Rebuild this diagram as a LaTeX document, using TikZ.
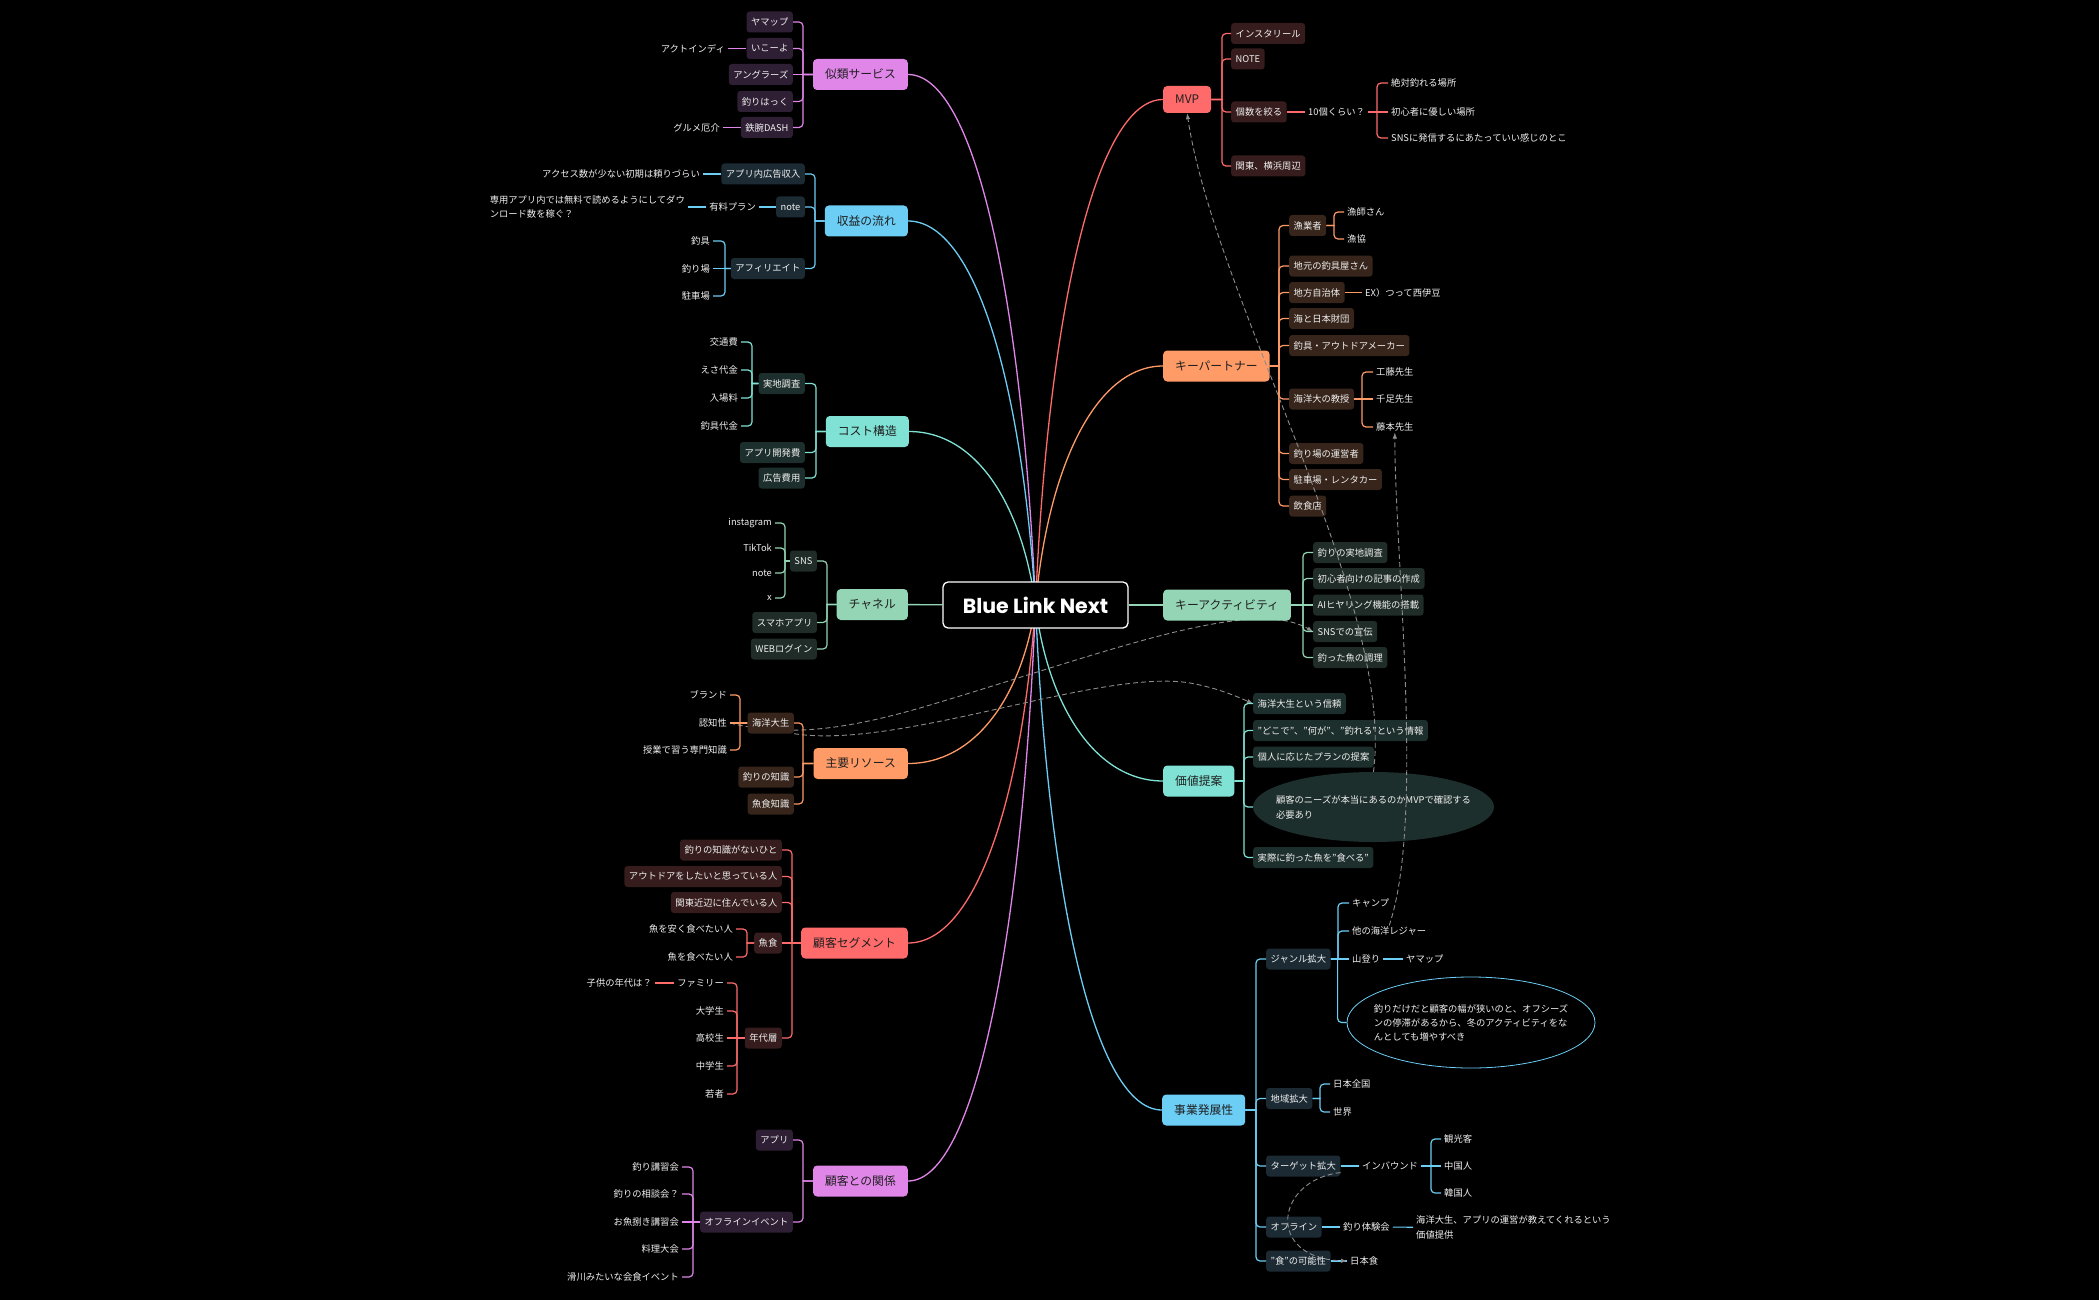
\documentclass[tikz,border=0pt]{standalone}
\usepackage{fontspec}
\setmainfont{Noto Sans CJK JP}
\newfontfamily\titlefont{Poppins}
\usetikzlibrary{arrows.meta, positioning, shapes.geometric, backgrounds}

\definecolor{vio}{HTML}{E086E8}
\definecolor{vioDk}{HTML}{2F1F34}
\definecolor{blu}{HTML}{6CCDF5}
\definecolor{bluDk}{HTML}{1B2A33}
\definecolor{tea}{HTML}{80E2D5}
\definecolor{teaDk}{HTML}{1D2F2C}
\definecolor{mnt}{HTML}{94D5B6}
\definecolor{mntDk}{HTML}{1F2C28}
\definecolor{org}{HTML}{FF9B66}
\definecolor{orgDk}{HTML}{37251B}
\definecolor{rd}{HTML}{FF6B6B}
\definecolor{rdDk}{HTML}{361C1C}
\definecolor{relgray}{HTML}{8C8C8C}

\begin{document}
\begin{tikzpicture}[
        x=1pt, y=-1pt,
        every node/.style={font=\fontsize{9.3}{11}\selectfont, text=white!94!black},
        topicbox/.style={rounded corners=4pt, minimum height=31pt, inner xsep=12pt, inner ysep=0pt,
            text=black!88, font=\fontsize{11.8}{13}\selectfont},
        subbox/.style={rounded corners=3pt, minimum height=21pt, inner xsep=4.5pt, inner ysep=0pt},
        leafnote/.style={inner xsep=3pt, inner ysep=1pt},
        forkline/.style={line width=1.2pt, rounded corners=4pt},
        trunkline/.style={line width=1.3pt},
        relline/.style={draw=relgray, line width=0.9pt, dash pattern=on 5pt off 3pt,
            -{Latex[length=6pt, width=4.5pt]}}
    ]
    \useasboundingbox (0,0) rectangle (2099,1300);
    \begin{scope}[on background layer]
        \fill[black] (0,0) rectangle (2099,1300);
    \end{scope}

    % 中心主题
    \node[draw=white, line width=1.3pt, fill=black, rounded corners=5pt, minimum width=185pt,
        minimum height=46pt, text=white, font=\titlefont\bfseries\fontsize{20.5}{22}\selectfont]
        (root) at (1035.5,605) {Blue Link Next};

    % 左侧主题
    \node[topicbox, fill=vio, anchor=east] (similar) at (908,74.5) {似類サービス};
    \node[topicbox, fill=blu, anchor=east] (revenue) at (908,221) {収益の流れ};
    \node[topicbox, fill=tea, anchor=east] (cost) at (909,431.5) {コスト構造};
    \node[topicbox, fill=mnt, anchor=east] (channel) at (908,604.5) {チャネル};
    \node[topicbox, fill=org, anchor=east] (resource) at (908,763.5) {主要リソース};
    \node[topicbox, fill=rd, anchor=east] (segment) at (908,943) {顧客セグメント};
    \node[topicbox, fill=vio, anchor=east] (custrel) at (908,1181) {顧客との関係};

    % 右侧主题
    \node[topicbox, fill=rd, anchor=west, minimum height=27pt] (mvp) at (1163,99.5) {MVP};
    \node[topicbox, fill=org, anchor=west] (partner) at (1163,366) {キーパートナー};
    \node[topicbox, fill=mnt, anchor=west] (activity) at (1163,605) {キーアクティビティ};
    \node[topicbox, fill=tea, anchor=west] (valueprop) at (1163,781) {価値提案};
    \node[topicbox, fill=blu, anchor=west] (growth) at (1162,1110) {事業発展性};

    % 似類サービス
    \node[subbox, fill=vioDk, anchor=east] (yamapA) at (793,22) {ヤマップ};
    \node[subbox, fill=vioDk, anchor=east] (ikoyo) at (793,48.5) {いこーよ};
    \node[subbox, fill=vioDk, anchor=east] (anglers) at (793,74.5) {アングラーズ};
    \node[subbox, fill=vioDk, anchor=east] (tsurihack) at (793,101.5) {釣りはっく};
    \node[subbox, fill=vioDk, anchor=east] (tetsuwan) at (793,127.5) {鉄腕DASH};
    \node[leafnote, anchor=east] (actindy) at (728,48.5) {アクトインディ};
    \node[leafnote, anchor=east] (gourmet) at (723,127.5) {グルメ厄介};
    \foreach \c in {yamapA,ikoyo,tsurihack,tetsuwan}
        \draw[forkline, vio] (\c.east) -- ++(10,0) [sharp corners] |- (similar.west);
    \draw[forkline, vio] (anglers) -- (similar);
    \draw[forkline, vio] (actindy) -- (ikoyo);
    \draw[forkline, vio] (gourmet) -- (tetsuwan);

    % 収益の流れ
    \node[subbox, fill=bluDk, anchor=east] (adrev) at (805,174) {アプリ内広告収入};
    \node[subbox, fill=bluDk, anchor=east] (noteplan) at (805,207) {note};
    \node[subbox, fill=bluDk, anchor=east] (affiliate) at (805,268.5) {アフィリエイト};
    \node[leafnote, anchor=east] (access) at (703,174) {アクセス数が少ない初期は頼りづらい};
    \node[leafnote, anchor=east] (paidplan) at (759,207) {有料プラン};
    \node[leafnote, anchor=east, align=left, font=\fontsize{9.3}{14.5}\selectfont] (download) at (688,207)
        {専用アプリ内では無料で読めるようにしてダウ\\ンロード数を稼ぐ？};
    \node[leafnote, anchor=east] (gear) at (713,241) {釣具};
    \node[leafnote, anchor=east] (spot) at (713,268.5) {釣り場};
    \node[leafnote, anchor=east] (parking) at (713,296) {駐車場};
    \foreach \c in {adrev,noteplan,affiliate}
        \draw[forkline, blu] (\c.east) -- ++(10,0) [sharp corners] |- (revenue.west);
    \draw[forkline, blu] (access) -- (adrev);
    \draw[forkline, blu] (paidplan) -- (noteplan);
    \draw[forkline, blu] (download) -- (paidplan);
    \foreach \c in {gear,parking}
        \draw[forkline, blu] (\c.east) -- ++(12,0) [sharp corners] |- (affiliate.west);
    \draw[forkline, blu] (spot) -- (affiliate);

    % コスト構造
    \node[subbox, fill=teaDk, anchor=east] (survey) at (805,383.5) {実地調査};
    \node[subbox, fill=teaDk, anchor=east] (appdev) at (805,452.5) {アプリ開発費};
    \node[subbox, fill=teaDk, anchor=east] (adcost) at (805,478) {広告費用};
    \node[leafnote, anchor=east] (transport) at (741,342) {交通費};
    \node[leafnote, anchor=east] (bait) at (741,370) {えさ代金};
    \node[leafnote, anchor=east] (entryfee) at (741,398) {入場料};
    \node[leafnote, anchor=east] (gearfee) at (741,426) {釣具代金};
    \foreach \c in {survey,appdev,adcost}
        \draw[forkline, tea] (\c.east) -- ++(11,0) [sharp corners] |- (cost.west);
    \foreach \c in {transport,bait,entryfee,gearfee}
        \draw[forkline, tea] (\c.east) -- ++(11,0) [sharp corners] |- (survey.west);

    % チャネル
    \node[subbox, fill=mntDk, anchor=east] (sns) at (817,561) {SNS};
    \node[subbox, fill=mntDk, anchor=east] (smartapp) at (817,622.5) {スマホアプリ};
    \node[subbox, fill=mntDk, anchor=east] (weblogin) at (817,649) {WEBログイン};
    \node[leafnote, anchor=east] (insta) at (775,523) {instagram};
    \node[leafnote, anchor=east] (tiktok) at (775,548) {TikTok};
    \node[leafnote, anchor=east] (notesns) at (775,573) {note};
    \node[leafnote, anchor=east] (xsns) at (775,598) {x};
    \foreach \c in {sns,smartapp,weblogin}
        \draw[forkline, mnt] (\c.east) -- ++(10,0) [sharp corners] |- (channel.west);
    \foreach \c in {insta,tiktok,notesns,xsns}
        \draw[forkline, mnt] (\c.east) -- ++(10,0) [sharp corners] |- (sns.west);

    % 主要リソース
    \node[subbox, fill=orgDk, anchor=east] (student) at (794,723) {海洋大生};
    \node[subbox, fill=orgDk, anchor=east] (knowhow) at (794,777) {釣りの知識};
    \node[subbox, fill=orgDk, anchor=east] (fishfood) at (794,804) {魚食知識};
    \node[leafnote, anchor=east] (brand) at (730,695) {ブランド};
    \node[leafnote, anchor=east] (ninchi) at (730,723) {認知性};
    \node[leafnote, anchor=east] (lecture) at (730,750) {授業で習う専門知識};
    \foreach \c in {student,knowhow,fishfood}
        \draw[forkline, org] (\c.east) -- ++(9,0) [sharp corners] |- (resource.west);
    \foreach \c in {brand,lecture}
        \draw[forkline, org] (\c.east) -- ++(10,0) [sharp corners] |- (student.west);
    \draw[forkline, org] (ninchi) -- (student);

    % 顧客セグメント
    \node[subbox, fill=rdDk, anchor=east] (noknow) at (782,850) {釣りの知識がないひと};
    \node[subbox, fill=rdDk, anchor=east] (outdoor) at (782,876.5) {アウトドアをしたいと思っている人};
    \node[subbox, fill=rdDk, anchor=east] (kanto) at (782,902.5) {関東近辺に住んでいる人};
    \node[subbox, fill=rdDk, anchor=east] (eater) at (782,943) {魚食};
    \node[subbox, fill=rdDk, anchor=east] (agegroup) at (782,1038) {年代層};
    \node[leafnote, anchor=east] (cheapfish) at (736,929) {魚を安く食べたい人};
    \node[leafnote, anchor=east] (wantfish) at (736,957) {魚を食べたい人};
    \node[leafnote, anchor=east] (family) at (727,983) {ファミリー};
    \node[leafnote, anchor=east] (univ) at (727,1011) {大学生};
    \node[leafnote, anchor=east] (high) at (727,1038) {高校生};
    \node[leafnote, anchor=east] (junior) at (727,1066) {中学生};
    \node[leafnote, anchor=east] (youth) at (727,1094) {若者};
    \node[leafnote, anchor=east] (kidage) at (655,983) {子供の年代は？};
    \foreach \c in {noknow,outdoor,kanto,agegroup}
        \draw[forkline, rd] (\c.east) -- ++(10,0) [sharp corners] |- (segment.west);
    \draw[forkline, rd] (eater) -- (segment);
    \foreach \c in {cheapfish,wantfish}
        \draw[forkline, rd] (\c.east) -- ++(11,0) [sharp corners] |- (eater.west);
    \foreach \c in {family,univ,junior,youth}
        \draw[forkline, rd] (\c.east) -- ++(10,0) [sharp corners] |- (agegroup.west);
    \draw[forkline, rd] (high) -- (agegroup);
    \draw[forkline, rd] (kidage) -- (family);

    % 顧客との関係
    \node[subbox, fill=vioDk, anchor=east] (apprel) at (793,1140) {アプリ};
    \node[subbox, fill=vioDk, anchor=east] (offevent) at (793,1222) {オフラインイベント};
    \node[leafnote, anchor=east] (lesson) at (682,1167) {釣り講習会};
    \node[leafnote, anchor=east] (consult) at (682,1194) {釣りの相談会？};
    \node[leafnote, anchor=east] (filleting) at (682,1222) {お魚捌き講習会};
    \node[leafnote, anchor=east] (cookoff) at (682,1249) {料理大会};
    \node[leafnote, anchor=east] (dinner) at (682,1277) {滑川みたいな会食イベント};
    \foreach \c in {apprel,offevent}
        \draw[forkline, vio] (\c.east) -- ++(10,0) [sharp corners] |- (custrel.west);
    \foreach \c in {lesson,consult,cookoff,dinner}
        \draw[forkline, vio] (\c.east) -- ++(11,0) [sharp corners] |- (offevent.west);
    \draw[forkline, vio] (filleting) -- (offevent);

    % MVP
    \node[subbox, fill=rdDk, anchor=west] (reel) at (1231,33.5) {インスタリール};
    \node[subbox, fill=rdDk, anchor=west] (notebig) at (1231,59) {NOTE};
    \node[subbox, fill=rdDk, anchor=west] (narrow) at (1231,112) {個数を絞る};
    \node[subbox, fill=rdDk, anchor=west] (yokohama) at (1231,166) {関東、横浜周辺};
    \node[leafnote, anchor=west] (ten) at (1305,112) {10個くらい？};
    \node[leafnote, anchor=west] (surefish) at (1388,83) {絶対釣れる場所};
    \node[leafnote, anchor=west] (beginner) at (1388,112) {初心者に優しい場所};
    \node[leafnote, anchor=west] (snsspot) at (1388,138) {SNSに発信するにあたっていい感じのとこ};
    \foreach \c in {reel,notebig,narrow,yokohama}
        \draw[forkline, rd] (\c.west) -- ++(-9,0) [sharp corners] |- (mvp.east);
    \draw[forkline, rd] (narrow) -- (ten);
    \foreach \c in {surefish,snsspot}
        \draw[forkline, rd] (\c.west) -- ++(-11,0) [sharp corners] |- (ten.east);
    \draw[forkline, rd] (beginner) -- (ten);

    % キーパートナー
    \node[subbox, fill=orgDk, anchor=west] (fishery) at (1289,225.5) {漁業者};
    \node[subbox, fill=orgDk, anchor=west] (tackleshop) at (1289,266) {地元の釣具屋さん};
    \node[subbox, fill=orgDk, anchor=west] (localgov) at (1289,292.5) {地方自治体};
    \node[subbox, fill=orgDk, anchor=west] (nippon) at (1289,318.5) {海と日本財団};
    \node[subbox, fill=orgDk, anchor=west] (maker) at (1289,345.5) {釣具・アウトドアメーカー};
    \node[subbox, fill=orgDk, anchor=west] (professor) at (1289,399) {海洋大の教授};
    \node[subbox, fill=orgDk, anchor=west] (operator) at (1289,453.5) {釣り場の運営者};
    \node[subbox, fill=orgDk, anchor=west] (rental) at (1289,479.5) {駐車場・レンタカー};
    \node[subbox, fill=orgDk, anchor=west] (eatery) at (1289,506) {飲食店};
    \node[leafnote, anchor=west] (fisherman) at (1344,212) {漁師さん};
    \node[leafnote, anchor=west] (coop) at (1344,239) {漁協};
    \node[leafnote, anchor=west] (nishiizu) at (1362,292.5) {EX）つって西伊豆};
    \node[leafnote, anchor=west] (kudo) at (1373,372) {工藤先生};
    \node[leafnote, anchor=west] (senzoku) at (1373,399) {千足先生};
    \node[leafnote, anchor=west] (fujimoto) at (1373,427) {藤本先生};
    \foreach \c in {fishery,tackleshop,localgov,nippon,maker,professor,operator,rental,eatery}
        \draw[forkline, org] (\c.west) -- ++(-10,0) [sharp corners] |- (partner.east);
    \foreach \c in {fisherman,coop}
        \draw[forkline, org] (\c.west) -- ++(-10,0) [sharp corners] |- (fishery.east);
    \draw[forkline, org] (localgov) -- (nishiizu);
    \foreach \c in {kudo,fujimoto}
        \draw[forkline, org] (\c.west) -- ++(-11,0) [sharp corners] |- (professor.east);
    \draw[forkline, org] (senzoku) -- (professor);

    % キーアクティビティ
    \node[subbox, fill=mntDk, anchor=west] (fieldwork) at (1313,552.5) {釣りの実地調査};
    \node[subbox, fill=mntDk, anchor=west] (article) at (1313,578.5) {初心者向けの記事の作成};
    \node[subbox, fill=mntDk, anchor=west] (aihearing) at (1313,605) {AIヒヤリング機能の搭載};
    \node[subbox, fill=mntDk, anchor=west] (snspromo) at (1313,631.5) {SNSでの宣伝};
    \node[subbox, fill=mntDk, anchor=west] (cooking) at (1313,657.5) {釣った魚の調理};
    \foreach \c in {fieldwork,article,snspromo,cooking}
        \draw[forkline, mnt] (\c.west) -- ++(-10,0) [sharp corners] |- (activity.east);
    \draw[forkline, mnt] (aihearing) -- (activity);

    % 価値提案
    \node[subbox, fill=teaDk, anchor=west] (trust) at (1253,703.5) {海洋大生という信頼};
    \node[subbox, fill=teaDk, anchor=west] (where) at (1253,730.5) {"どこで"、"何が"、"釣れる"という情報};
    \node[subbox, fill=teaDk, anchor=west] (plan) at (1253,757) {個人に応じたプランの提案};
    \node[ellipse, fill=teaDk, minimum width=241pt, minimum height=70pt, inner xsep=-13pt, inner ysep=0pt,
        align=left, font=\fontsize{9.3}{15}\selectfont] (needs) at (1373.5,807)
        {顧客のニーズが本当にあるのかMVPで確認する\\必要あり};
    \node[subbox, fill=teaDk, anchor=west] (eatcatch) at (1253,857.5) {実際に釣った魚を"食べる"};
    \foreach \c in {trust,where,plan,needs,eatcatch}
        \draw[forkline, tea] (\c.west) -- ++(-9,0) [sharp corners] |- (valueprop.east);

    % 事業発展性
    \node[subbox, fill=bluDk, anchor=west] (genre) at (1266,959) {ジャンル拡大};
    \node[subbox, fill=bluDk, anchor=west] (region) at (1266,1098.5) {地域拡大};
    \node[subbox, fill=bluDk, anchor=west] (target) at (1266,1166) {ターゲット拡大};
    \node[subbox, fill=bluDk, anchor=west] (offline) at (1266,1227) {オフライン};
    \node[subbox, fill=bluDk, anchor=west] (foodpot) at (1266,1261) {"食"の可能性};
    \node[leafnote, anchor=west] (camp) at (1349,903) {キャンプ};
    \node[leafnote, anchor=west] (leisure) at (1349,931) {他の海洋レジャー};
    \node[leafnote, anchor=west] (climb) at (1349,959) {山登り};
    \node[leafnote, anchor=west] (yamapB) at (1403,959) {ヤマップ};
    \node[ellipse, draw=blu, line width=0.8pt, fill=black, minimum width=248pt, minimum height=91pt,
        inner xsep=-12pt, inner ysep=0pt, align=left, font=\fontsize{9.3}{14}\selectfont] (winter) at (1471,1022.5)
        {釣りだけだと顧客の幅が狭いのと、オフシーズ\\ンの停滞があるから、冬のアクティビティをな\\んとしても増やすべき};
    \node[leafnote, anchor=west] (japan) at (1330,1084) {日本全国};
    \node[leafnote, anchor=west] (world) at (1330,1112) {世界};
    \node[leafnote, anchor=west] (inbound) at (1359,1166) {インバウンド};
    \node[leafnote, anchor=west] (tourist) at (1441,1139) {観光客};
    \node[leafnote, anchor=west] (chinese) at (1441,1166) {中国人};
    \node[leafnote, anchor=west] (korean) at (1441,1193) {韓国人};
    \node[leafnote, anchor=west] (experience) at (1340,1227) {釣り体験会};
    \node[leafnote, anchor=west, align=left, font=\fontsize{9.3}{15}\selectfont] (valueoffer) at (1413,1227.5)
        {海洋大生、アプリの運営が教えてくれるという\\価値提供};
    \node[leafnote, anchor=west] (washoku) at (1347,1261) {日本食};
    \foreach \c in {genre,region,target,offline,foodpot}
        \draw[forkline, blu] (\c.west) -- ++(-10,0) [sharp corners] |- (growth.east);
    \foreach \c in {camp,leisure}
        \draw[forkline, blu] (\c.west) -- ++(-11,0) [sharp corners] |- (genre.east);
    \draw[forkline, blu] (winter.west) -- ++(-9,0) [sharp corners] |- (genre.east);
    \draw[forkline, blu] (climb) -- (genre);
    \draw[forkline, blu] (climb) -- (yamapB);
    \foreach \c in {japan,world}
        \draw[forkline, blu] (\c.west) -- ++(-10,0) [sharp corners] |- (region.east);
    \draw[forkline, blu] (target) -- (inbound);
    \foreach \c in {tourist,korean}
        \draw[forkline, blu] (\c.west) -- ++(-10,0) [sharp corners] |- (inbound.east);
    \draw[forkline, blu] (chinese) -- (inbound);
    \draw[forkline, blu] (offline) -- (experience);
    \draw[forkline, blu] (experience) -- (valueoffer);
    \draw[forkline, blu] (foodpot) -- (washoku);

    % 中心到主题的曲线
    \begin{scope}[on background layer]
        \draw[trunkline, vio] (root.center) .. controls (1022,297) and (975,74.5) .. (similar.east);
        \draw[trunkline, blu] (root.center) .. controls (1022,382) and (975,221) .. (revenue.east);
        \draw[trunkline, tea] (root.center) .. controls (1022,504) and (976,431.5) .. (cost.east);
        \draw[trunkline, mnt] (root) -- (channel);
        \draw[trunkline, org] (root.center) .. controls (1022,697) and (975,763.5) .. (resource.east);
        \draw[trunkline, rd] (root.center) .. controls (1022,801) and (975,943) .. (segment.east);
        \draw[trunkline, vio] (root.center) .. controls (1022,939) and (975,1181) .. (custrel.east);
        \draw[trunkline, rd] (root.center) .. controls (1048,312) and (1096,99.5) .. (mvp.west);
        \draw[trunkline, org] (root.center) .. controls (1048,466) and (1096,366) .. (partner.west);
        \draw[trunkline, mnt] (root) -- (activity);
        \draw[trunkline, tea] (root.center) .. controls (1048,707) and (1096,781) .. (valueprop.west);
        \draw[trunkline, blu] (root.center) .. controls (1048,898) and (1095,1110) .. (growth.west);
        % 关联线(在方框下方)
        \draw[relline] (ninchi.east) .. controls (790,738) and (850,728) .. (920,708)
            .. controls (1100,655) and (1250,595) .. (snspromo.west);
        \draw[relline] (student.south east) .. controls (900,750) and (1100,668) .. (1190,683)
            .. controls (1218,688) and (1238,697) .. (trust.west);
    \end{scope}

    % 关联线
    \draw[relline] (needs.north) .. controls (1395,600) and (1215,300) .. (mvp.south);
    \draw[relline] (leisure.north) .. controls (1425,820) and (1395,560) .. (fujimoto.south);
    \draw[relline] (target.-10) .. controls (1275,1180) and (1265,1258) .. (washoku.west);
\end{tikzpicture}
\end{document}
